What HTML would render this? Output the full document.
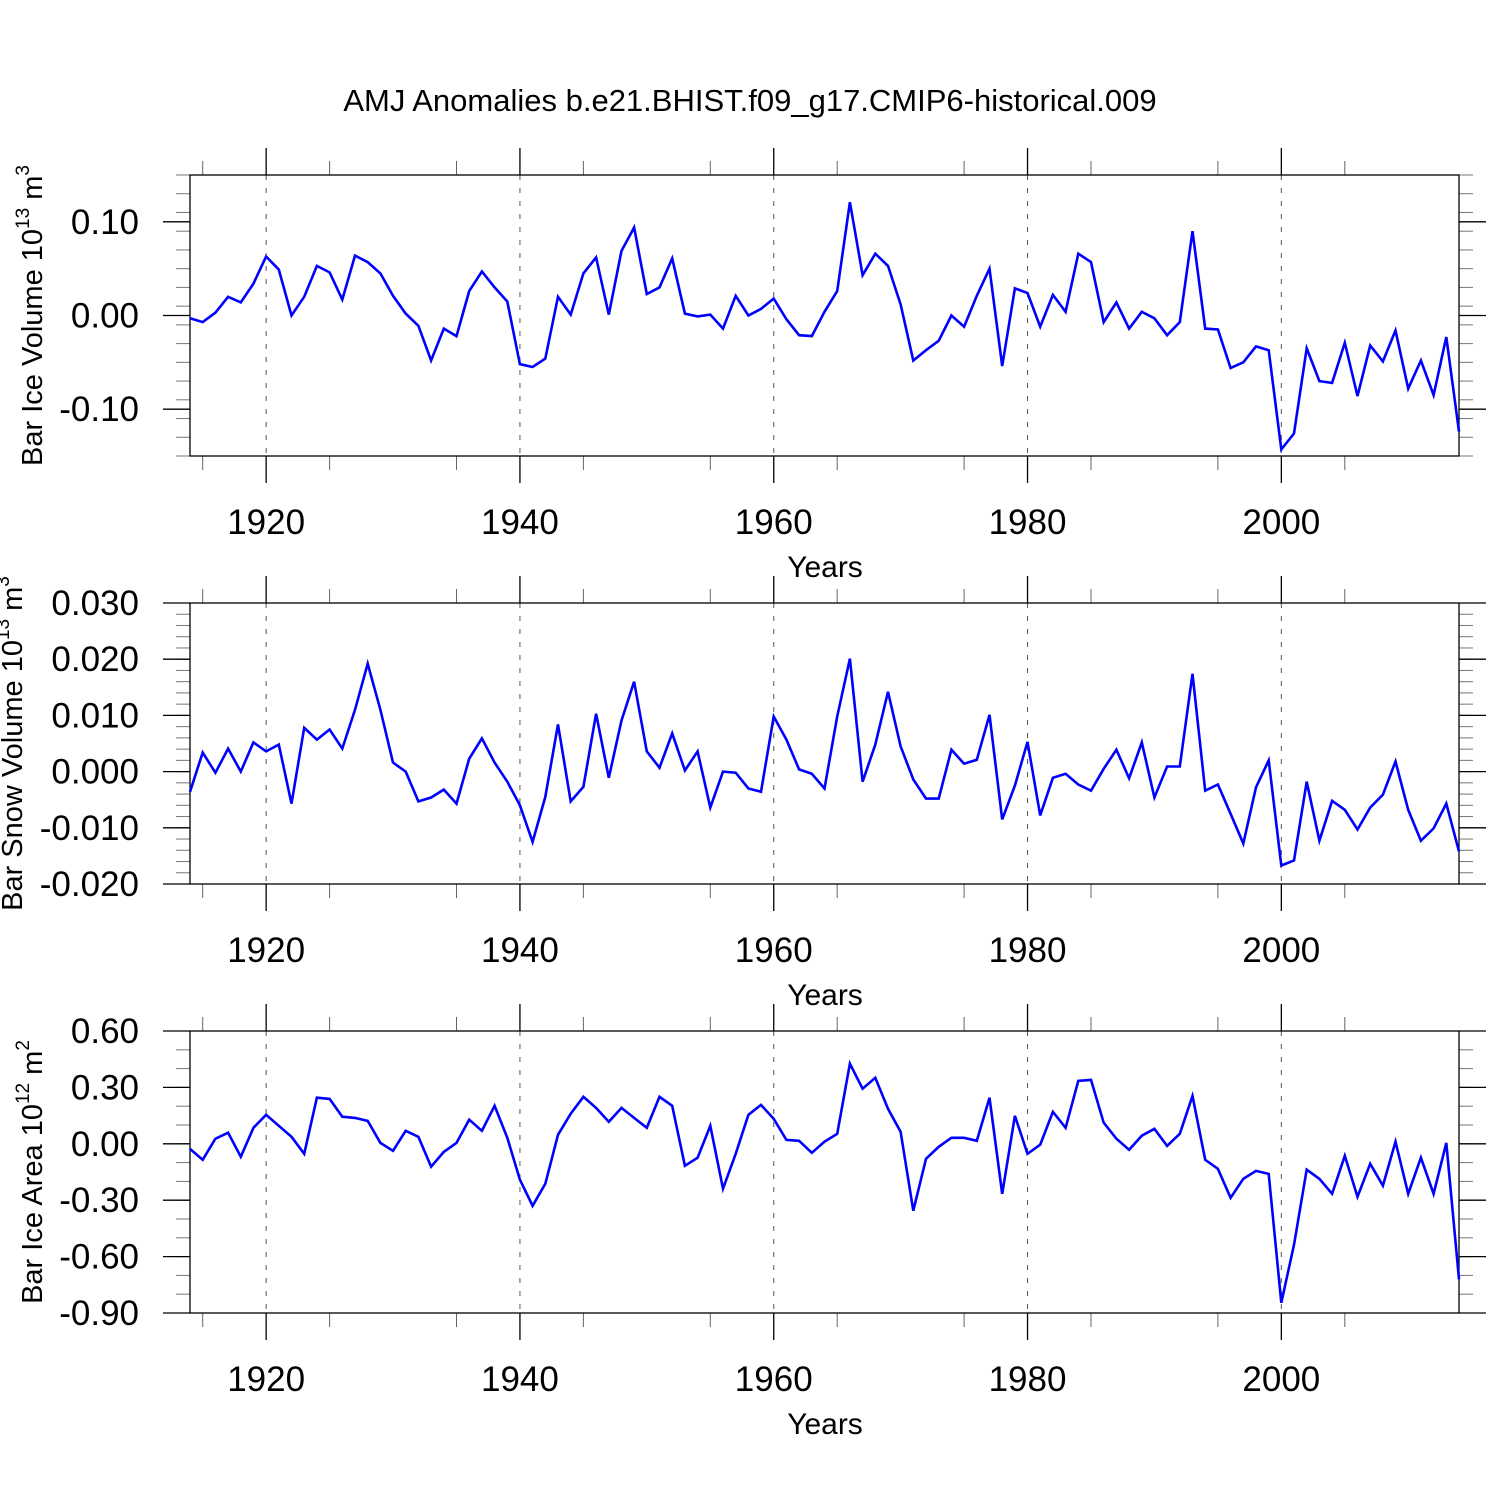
<!DOCTYPE html>
<html><head><meta charset="utf-8"><style>
html,body{margin:0;padding:0;background:#fff}
svg{display:block;font-family:"Liberation Sans",Arial,sans-serif}
</style></head><body>
<svg id="chart" width="1500" height="1500" viewBox="0 0 1500 1500">
<text x="750" y="111" text-anchor="middle" font-size="31">AMJ Anomalies b.e21.BHIST.f09_g17.CMIP6-historical.009</text>
</svg>
<script>
const years = [];
for (let y = 1914; y <= 2014; y++) years.push(y);
const iceVolume = [-0.003,-0.007,0.003,0.02,0.014,0.034,0.063,0.049,0.0,0.02,0.053,0.046,0.017,0.064,0.057,0.045,0.021,0.002,-0.011,-0.048,-0.014,-0.022,0.026,0.047,0.03,0.015,-0.052,-0.055,-0.046,0.02,0.001,0.045,0.062,0.001,0.069,0.094,0.023,0.03,0.061,0.002,-0.001,0.001,-0.014,0.021,0.0,0.007,0.018,-0.004,-0.021,-0.022,0.004,0.026,0.121,0.043,0.066,0.053,0.012,-0.048,-0.037,-0.027,0.0,-0.012,0.021,0.05,-0.054,0.029,0.024,-0.012,0.022,0.004,0.066,0.057,-0.007,0.014,-0.014,0.004,-0.003,-0.021,-0.007,0.09,-0.014,-0.015,-0.056,-0.05,-0.033,-0.037,-0.143,-0.126,-0.035,-0.07,-0.072,-0.029,-0.086,-0.032,-0.049,-0.016,-0.078,-0.048,-0.085,-0.023,-0.124];
const snowVolume = [-0.0036,0.0034,-0.0002,0.0041,0.0,0.0052,0.0036,0.0048,-0.0057,0.0078,0.0057,0.0075,0.0041,0.011,0.0192,0.011,0.0016,0.0,-0.0053,-0.0046,-0.0032,-0.0057,0.0023,0.0059,0.0016,-0.0018,-0.006,-0.0125,-0.0045,0.0084,-0.0053,-0.0027,0.0103,-0.0011,0.0091,0.016,0.0036,0.0007,0.0068,0.0002,0.0036,-0.0064,0.0,-0.0002,-0.003,-0.0036,0.0098,0.0057,0.0004,-0.0004,-0.003,0.0098,0.0201,-0.0018,0.0048,0.0142,0.0045,-0.0014,-0.0048,-0.0048,0.0039,0.0014,0.0021,0.0101,-0.0085,-0.0025,0.0053,-0.0078,-0.0011,-0.0004,-0.0023,-0.0034,0.0005,0.0039,-0.0012,0.0052,-0.0046,0.0009,0.0009,0.0174,-0.0034,-0.0023,-0.0075,-0.0128,-0.0028,0.002,-0.0167,-0.0158,-0.0018,-0.0123,-0.0052,-0.0068,-0.0103,-0.0064,-0.0041,0.0018,-0.0068,-0.0123,-0.0101,-0.0057,-0.0142];
const iceArea = [-0.027,-0.085,0.027,0.059,-0.069,0.085,0.154,0.096,0.037,-0.053,0.245,0.239,0.144,0.138,0.122,0.005,-0.037,0.069,0.037,-0.122,-0.043,0.005,0.128,0.069,0.202,0.032,-0.191,-0.33,-0.213,0.048,0.16,0.25,0.191,0.117,0.191,0.138,0.085,0.25,0.202,-0.117,-0.074,0.096,-0.239,-0.053,0.154,0.207,0.133,0.021,0.016,-0.048,0.011,0.053,0.426,0.293,0.351,0.186,0.064,-0.356,-0.08,-0.016,0.032,0.032,0.016,0.245,-0.266,0.149,-0.053,-0.005,0.17,0.085,0.335,0.34,0.112,0.027,-0.032,0.043,0.08,-0.011,0.053,0.255,-0.085,-0.133,-0.287,-0.186,-0.144,-0.16,-0.846,-0.537,-0.138,-0.186,-0.266,-0.064,-0.282,-0.106,-0.223,0.011,-0.266,-0.074,-0.266,0.005,-0.72];
const xTickYears = [1920,1940,1960,1980,2000];
const xMinorYears = [1915,1925,1935,1945,1955,1965,1975,1985,1995,2005];
const ticks1 = [-0.10,0.00,0.10], tickLabels1 = ["-0.10","0.00","0.10"];
const ticks2 = [-0.02,-0.01,0,0.01,0.02,0.03], tickLabels2 = ["-0.020","-0.010","0.000","0.010","0.020","0.030"];
const ticks3 = [-0.9,-0.6,-0.3,0,0.3,0.6], tickLabels3 = ["-0.90","-0.60","-0.30","0.00","0.30","0.60"];

const NS = "http://www.w3.org/2000/svg";
const svg = document.getElementById("chart");
const X0 = 190, X1 = 1459, YR0 = 1914, YR1 = 2014;
function xScale(yr){ return X0 + (yr - YR0) * (X1 - X0) / (YR1 - YR0); }
function mk(tag, attrs, parent){ const e = document.createElementNS(NS, tag); for (const k in attrs) e.setAttribute(k, attrs[k]); (parent||svg).appendChild(e); return e; }

function panel(idx, top, bottom, vmin, vmax, minorStep, ticks, labels, data, titleParts, titleY){
  const g = mk("g", {});
  
  
  const yS = v => bottom - (v - vmin) * (bottom - top) / (vmax - vmin);
  xTickYears.forEach(yr => {
    const l = mk("line", {x1:xScale(yr), x2:xScale(yr), y1:top, y2:bottom, stroke:"#555", "stroke-width":1, "stroke-dasharray":"5,8"}, g);
    
    
  });
  xTickYears.forEach(yr => {
    const x = xScale(yr);
    mk("line", {x1:x, x2:x, y1:top-27, y2:top, stroke:"#000", "stroke-width":1.3}, g);
    mk("line", {x1:x, x2:x, y1:bottom, y2:bottom+27, stroke:"#000", "stroke-width":1.3}, g);
    const t = mk("text", {x:x, y:bottom+78, "text-anchor":"middle", "font-size":35}, g);
    t.textContent = yr;
    
    
  });
  xMinorYears.forEach(yr => {
    const x = xScale(yr);
    mk("line", {x1:x, x2:x, y1:top-14, y2:top, stroke:"#666", "stroke-width":1}, g);
    mk("line", {x1:x, x2:x, y1:bottom, y2:bottom+14, stroke:"#666", "stroke-width":1}, g);
  });
  const nMinor = Math.round((vmax - vmin) / minorStep);
  for (let i = 0; i <= nMinor; i++){
    const y = yS(vmin + i*minorStep);
    mk("line", {x1:176, x2:X0, y1:y, y2:y, stroke:"#777", "stroke-width":1}, g);
    mk("line", {x1:X1, x2:X1+14, y1:y, y2:y, stroke:"#777", "stroke-width":1}, g);
  }
  ticks.forEach((v,i) => {
    const y = yS(v);
    mk("line", {x1:163, x2:X0, y1:y, y2:y, stroke:"#000", "stroke-width":1.3}, g);
    mk("line", {x1:X1, x2:X1+27, y1:y, y2:y, stroke:"#000", "stroke-width":1.3}, g);
    const t = mk("text", {x:139, y:y+12, "text-anchor":"end", "font-size":35}, g);
    t.textContent = labels[i];
    
    
  });
  const box = mk("rect", {x:X0, y:top, width:X1-X0, height:bottom-top, fill:"none", stroke:"#000", "stroke-width":1.3}, g);
  
  
  const pts = data.map((v,i) => xScale(years[i]).toFixed(1) + "," + yS(v).toFixed(1)).join(" ");
  const line = mk("polyline", {points:pts, fill:"none", stroke:"#0000ff", "stroke-width":2.6, "stroke-linejoin":"miter"}, g);
  
  
  const xt = mk("text", {x:825, y:bottom+121, "text-anchor":"middle", "font-size":30}, g);
  xt.textContent = "Years";
  
  
  const yt = mk("text", {x:0, y:0, "text-anchor":"middle", "font-size":29, transform:"translate(" + titleY + "," + ((top+bottom)/2) + ") rotate(-90)"}, g);
  
  
  const t1 = mk("tspan", {}, yt); t1.textContent = titleParts[0];
  const t2 = mk("tspan", {dy:-13, "font-size":19}, yt); t2.textContent = titleParts[1];
  const t3 = mk("tspan", {dy:13}, yt); t3.textContent = titleParts[2];
  const t4 = mk("tspan", {dy:-13, "font-size":19}, yt); t4.textContent = titleParts[3];
}
panel(1, 175, 456, -0.15, 0.15, 0.02, ticks1, tickLabels1, iceVolume, ["Bar Ice Volume 10","13"," m","3"], 42);
panel(2, 603, 884, -0.02, 0.03, 0.002, ticks2, tickLabels2, snowVolume, ["Bar Snow Volume 10","13"," m","3"], 22);
panel(3, 1031, 1313, -0.9, 0.6, 0.1, ticks3, tickLabels3, iceArea, ["Bar Ice Area 10","12"," m","2"], 42);
</script>
</body></html>
